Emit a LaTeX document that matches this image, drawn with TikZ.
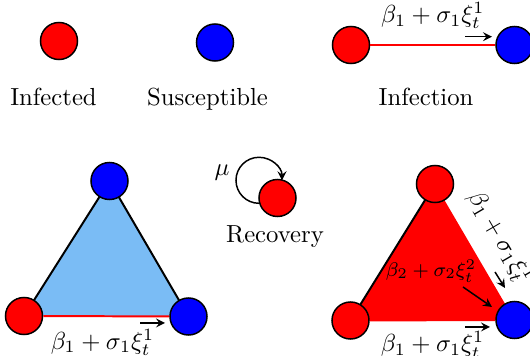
\documentclass[tikz,border=0pt]{standalone}
\usetikzlibrary{backgrounds}
\definecolor{triblue}{RGB}{122,188,245}
\begin{document}
\begin{tikzpicture}[x=0.405pt,y=0.405pt,>=stealth,
  infected/.style={draw=black,fill=red,circle,inner sep=0pt,minimum size=15pt,line width=0.6pt},
  susceptible/.style={infected,fill=blue},
  edgeline/.style={draw=black,line width=0.8pt},
  contact/.style={draw=red,line width=0.8pt},
  rate/.style={inner sep=3.3pt},
  drift/.style={->,line width=0.6pt}]
  \useasboundingbox (0,0) rectangle (530,356);
  \node[infected] (inf) at (59,315) {};
  \node[susceptible] (sus) at (215,313.5) {};
  \node[anchor=base] (inflbl) at (53.5,250) {Infected};
  \node[anchor=base] (suslbl) at (207.5,250) {Susceptible};
  \node[infected] (ired) at (351,311) {};
  \node[susceptible] (iblue) at (514.5,311) {};
  \draw[contact] (ired) -- node[rate,above=3pt] (irate) {$\beta_1+\sigma_1\xi_t^1$} (iblue);
  \coordinate (ia) at (465,319.3);
  \coordinate (ib) at (492,319.3);
  \draw[drift] (ia) -- (ib);
  \node[anchor=base] (inflbl2) at (426,250) {Infection};
  \node[susceptible] (lt) at (109.5,175) {};
  \node[infected] (ll) at (24,40) {};
  \node[susceptible] (lr) at (188.5,39.5) {};
  \begin{pgfonlayer}{background}
    \fill[triblue] (lt.center) -- (ll.center) -- (lr.center) -- cycle;
    \draw[edgeline] (lt.center) -- (ll.center);
    \draw[edgeline] (lt.center) -- (lr.center);
  \end{pgfonlayer}
  \draw[contact] (ll) -- node[rate,below=1.5pt,pos=0.47] (lrate) {$\beta_1+\sigma_1\xi_t^1$} (lr);
  \coordinate (la) at (140,33);
  \coordinate (lb) at (165,33);
  \draw[drift] (la) -- (lb);
  \node[infected] (rec) at (277.5,158) {};
  \draw[->,line width=0.6pt] (rec.196) arc[start angle=270,end angle=0,radius=23];
  \node (mu) at (222,183) {$\mu$};
  \node (reclbl) at (275,119) {Recovery};
  \node[infected] (rt) at (435,172) {};
  \node[infected] (rl) at (350.5,35.5) {};
  \node[susceptible] (rr) at (514.5,36) {};
  \begin{pgfonlayer}{background}
    \fill[red] (rt.center) -- (rl.center) -- (rr.center) -- cycle;
    \draw[edgeline] (rt.center) -- (rl.center);
  \end{pgfonlayer}
  \draw[contact] (rl) -- node[rate,below=1pt] (rrate) {$\beta_1+\sigma_1\xi_t^1$} (rr);
  \path (rt) -- node[rate,sloped,above=3pt] (srate) {$\beta_1+\sigma_1\xi_t^1$} (rr);
  \node[font=\footnotesize] (trate) at (431,85) {$\beta_2+\sigma_2\xi_t^2$};
  \coordinate (ra) at (465,29);
  \coordinate (rb) at (490,29);
  \draw[drift] (ra) -- (rb);
  \coordinate (sa) at (495,84);
  \coordinate (sb) at (505,68);
  \draw[drift] (sa) -- (sb);
  \coordinate (ta) at (463,69);
  \coordinate (tb) at (492,49);
  \draw[drift] (ta) -- (tb);
\end{tikzpicture}
\end{document}
